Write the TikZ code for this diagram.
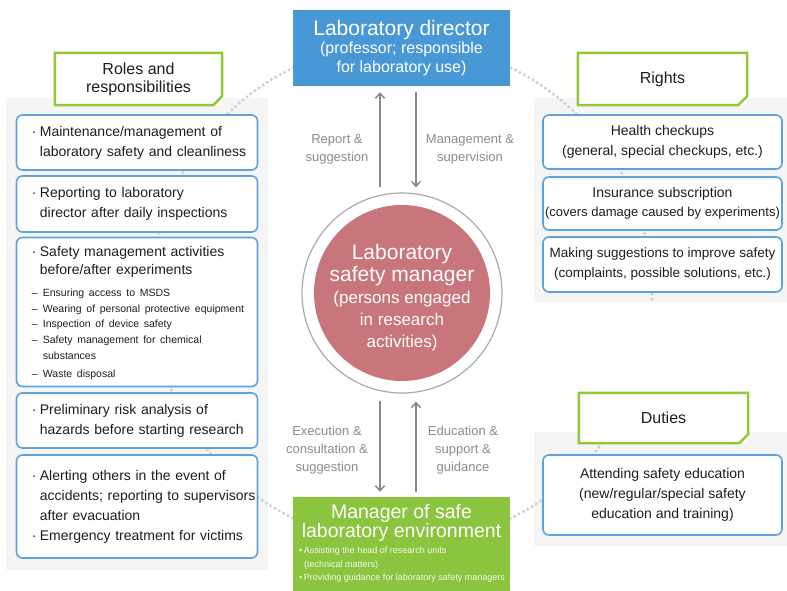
\documentclass[tikz,border=0pt]{standalone}
\usepackage{fontspec}
\setmainfont{Liberation Sans}
\usetikzlibrary{arrows.meta,calc}
\definecolor{dirblue}{RGB}{72,152,214}
\definecolor{mgrrose}{RGB}{200,117,123}
\definecolor{envgreen}{RGB}{139,196,62}
\definecolor{hdrgreen}{RGB}{146,200,52}
\definecolor{boxblue}{RGB}{92,162,220}
\definecolor{arrgray}{RGB}{135,135,135}
\definecolor{lblgray}{RGB}{140,140,140}
\definecolor{txt}{RGB}{30,30,30}
\definecolor{ringgray}{RGB}{170,170,170}
\newcommand\bul{\makebox[8pt][l]{·}}
\newcommand\ind{\hspace*{8pt}}
\newcommand\subi{\makebox[11pt][l]{–}}
\newcommand\subind{\hspace*{11pt}}
\begin{document}
\begin{tikzpicture}[x=1pt,y=-1pt,
  panel/.style={fill=black!4,draw=none},
  bgring/.style={draw=black!18,line width=3.5pt,dash pattern=on 0pt off 5pt,line cap=round},
  hdrbox/.style={rectangle,fill=white,draw=none,inner sep=0pt,align=center,text=txt,font=\fontsize{16}{18}\selectfont},
  hdrline/.style={draw=hdrgreen,line width=2.5pt,line join=miter},
  bluebox/.style={rectangle,rounded corners=6pt,draw=boxblue,line width=1.6pt,fill=white,inner sep=0pt},
  ltext/.style={anchor=west,inner sep=0pt,text width=235pt,align=left,text=txt,font=\fontsize{14}{20}\selectfont},
  rtext/.style={align=center,text=txt,font=\fontsize{14}{20}\selectfont},
  arr/.style={draw=arrgray,line width=1.5pt,-{Straight Barb[length=5pt,width=9pt]}},
  lbl/.style={align=center,text=lblgray,font=\fontsize{13}{18}\selectfont}
]
\useasboundingbox (0,0) rectangle (787,591);
\fill[white] (0,0) rectangle (787,591);
% background panels
\path[panel] (6,98) rectangle (268,570);
\path[panel] (534,98) rectangle (787,302);
\path[panel] (534,432) rectangle (787,546);
% background dotted ring
\draw[bgring] (402,293) circle[radius=250pt];
\fill[white] (534,302) rectangle (787,432);

% left header and boxes
\node[hdrbox,minimum width=167pt,minimum height=52pt] (rolesH) at (138.5,79) {Roles and\\responsibilities};
\draw[hdrline] (rolesH.north west) -- (rolesH.north east) -- ([yshift=9pt]rolesH.south east) -- ([xshift=-9pt]rolesH.south east) -- (rolesH.south west) -- cycle;

\node[bluebox,minimum width=241pt,minimum height=55pt] (l1) at (137,142.5) {};
\node[ltext] (l1t) at ([xshift=16pt]l1.west) {\bul Maintenance/management of\\\ind laboratory safety and cleanliness};
\node[bluebox,minimum width=241pt,minimum height=56pt] (l2) at (137,204) {};
\node[ltext] (l2t) at ([xshift=16pt]l2.west) {\bul Reporting to laboratory\\\ind director after daily inspections};
\node[bluebox,minimum width=241pt,minimum height=149pt] (l3) at (137,312) {};
\node[ltext,font=\fontsize{14}{18}\selectfont] (l3t) at ([xshift=16pt,yshift=-1pt]l3.west) {\bul Safety management activities\\
\ind before/after experiments\\[6pt]
\fontsize{10.5}{15.8}\selectfont\subi Ensuring access to MSDS\\
\subi Wearing of personal protective equipment\\
\subi Inspection of device safety\\
\subi Safety management for chemical\\
\subind substances\\
\subi Waste disposal};
\node[bluebox,minimum width=241pt,minimum height=55pt] (l4) at (137,420.5) {};
\node[ltext] (l4t) at ([xshift=16pt]l4.west) {\bul Preliminary risk analysis of\\\ind hazards before starting research};
\node[bluebox,minimum width=241pt,minimum height=103pt] (l5) at (137,506.5) {};
\node[ltext] (l5t) at ([xshift=16pt]l5.west) {\bul Alerting others in the event of\\\ind accidents; reporting to supervisors\\\ind after evacuation\\\bul Emergency treatment for victims};

% right header and boxes
\node[hdrbox,minimum width=169pt,minimum height=52pt] (rightsH) at (662.5,79) {Rights};
\draw[hdrline] (rightsH.north west) -- (rightsH.north east) -- ([yshift=9pt]rightsH.south east) -- ([xshift=-9pt]rightsH.south east) -- (rightsH.south west) -- cycle;
\node[bluebox,minimum width=239pt,minimum height=54pt,rtext] (r1) at (662.5,142) {Health checkups\\(general, special checkups, etc.)};
\node[bluebox,minimum width=239pt,minimum height=53pt,rtext,font=\fontsize{13}{19}\selectfont] (r2) at (662.5,203.5) {{\fontsize{14}{19}\selectfont Insurance subscription}\\(covers damage caused by experiments)};
\node[bluebox,minimum width=239pt,minimum height=55pt,rtext,font=\fontsize{13.5}{20}\selectfont] (r3) at (662.5,264.5) {Making suggestions to improve safety\\(complaints, possible solutions, etc.)};

\node[hdrbox,minimum width=169pt,minimum height=50pt] (dutiesH) at (663.5,418) {Duties};
\draw[hdrline] (dutiesH.north west) -- (dutiesH.north east) -- ([yshift=9pt]dutiesH.south east) -- ([xshift=-9pt]dutiesH.south east) -- (dutiesH.south west) -- cycle;
\node[bluebox,minimum width=239pt,minimum height=80pt,rtext] (d1) at (662.5,495) {Attending safety education\\(new/regular/special safety\\education and training)};

% centre: director
\node[rectangle,fill=dirblue,minimum width=217pt,minimum height=76pt,inner sep=0pt,align=center,text=white,font=\fontsize{16}{18.5}\selectfont] (dir) at (401.5,48) {{\fontsize{21}{21}\selectfont Laboratory director}\\(professor; responsible\\for laboratory use)};

% centre: safety manager circle
\node[circle,draw=ringgray,line width=1.2pt,fill=white,minimum size=200pt,inner sep=0pt] (ring) at (402,293) {};
\node[circle,fill=mgrrose,minimum size=176pt,inner sep=0pt] (mgr) at (ring.center) {};
\node[align=center,text=white,inner sep=0pt,font=\fontsize{17}{22}\selectfont] (mgrT) at ([yshift=-5pt]mgr.center) {{\fontsize{21}{26}\selectfont Laboratory}\\{\fontsize{21}{26}\selectfont safety manager}\\(persons engaged\\in research\\activities)};

% centre: environment manager
\node[rectangle,fill=envgreen,minimum width=217pt,minimum height=100pt,inner sep=0pt] (env) at (401.5,547) {};
\node[align=center,text=white,inner sep=0pt,font=\fontsize{19.5}{19}\selectfont] (envT) at (401.5,522.5) {Manager of safe\\laboratory environment};
\node[anchor=north west,align=left,text=white!92!envgreen,inner sep=0pt,font=\fontsize{9}{13.5}\selectfont] (envB) at (299,547) {•\,Assisting the head of research units\\\hspace*{5pt}(technical matters)\\•\,Providing guidance for laboratory safety managers};

% arrows
\coordinate (xa) at (380,0);
\coordinate (xb) at (416,0);
\draw[arr,shorten <=5pt,shorten >=6pt] (ring.north -| xa) -- (dir.south -| xa);
\draw[arr,shorten <=6pt,shorten >=5pt] (dir.south -| xb) -- (ring.north -| xb);
\draw[arr,shorten <=7pt,shorten >=5pt] (ring.south -| xa) -- (env.north -| xa);
\draw[arr,shorten <=5pt,shorten >=8pt] (env.north -| xb) -- (ring.south -| xb);

\node[lbl] (repL) at (337,149) {Report \&\\suggestion};
\node[lbl] (mgmtL) at (470,149) {Management \&\\supervision};
\node[lbl] (exeL) at (327,450) {Execution \&\\consultation \&\\suggestion};
\node[lbl] (eduL) at (463,450) {Education \&\\support \&\\guidance};
\end{tikzpicture}
\end{document}
